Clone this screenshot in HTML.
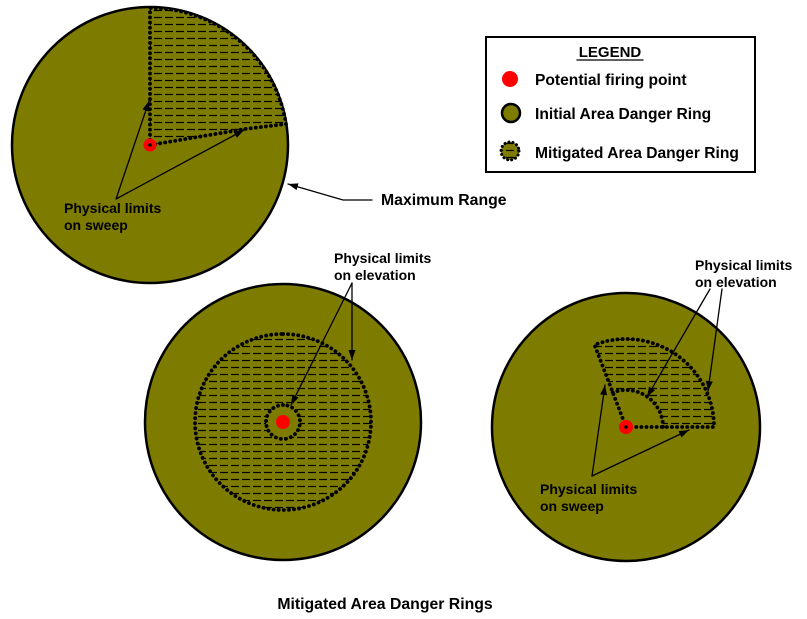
<!DOCTYPE html>
<html><head><meta charset="utf-8"><style>
html,body{margin:0;padding:0;background:#fff}
svg{display:block}
text{font-family:"Liberation Sans",Arial,sans-serif;font-weight:bold;fill:#000}
</style></head><body>
<svg width="807" height="619" viewBox="0 0 807 619" xmlns="http://www.w3.org/2000/svg">
<defs>
<pattern id="h" width="11" height="7" patternUnits="userSpaceOnUse">
<rect width="11" height="7" fill="#7d7b00"/>
<line x1="0" y1="3.5" x2="8" y2="3.5" stroke="#000" stroke-width="1.2"/>
</pattern>
<marker id="a" viewBox="0 0 10 10" refX="10" refY="5" markerWidth="10" markerHeight="10" orient="auto" markerUnits="userSpaceOnUse">
<path d="M0,1.5 L10,5 L0,8.5 Z" fill="#000"/>
</marker>
</defs>
<g stroke-linecap="round">
<circle cx="150" cy="145" r="138" fill="#7d7b00" stroke="#000" stroke-width="2.5"/>
<path d="M150,145 L150,8 A137,137 0 0 1 286,124 L245,129 Z" fill="url(#h)" stroke="#000" stroke-width="3.8" stroke-dasharray="0.1 5"/>
<circle cx="150" cy="145" r="6.5" fill="#f00"/>
<circle cx="150" cy="145" r="1.8" fill="#000"/>
<line x1="116" y1="199" x2="149" y2="101" stroke="#000" stroke-width="1.3" marker-end="url(#a)"/>
<line x1="116" y1="199" x2="244" y2="130" stroke="#000" stroke-width="1.3" marker-end="url(#a)"/>
<text x="64" y="213" font-size="14">Physical limits</text>
<text x="64" y="230" font-size="14">on sweep</text>
<polyline points="372,200 343,200 288,184" fill="none" stroke="#000" stroke-width="1.2" marker-end="url(#a)"/>
<text x="381" y="205" font-size="15.8">Maximum Range</text>
<rect x="486" y="37" width="269" height="135" fill="#fff" stroke="#000" stroke-width="2"/>
<text x="610" y="57" font-size="15" text-anchor="middle">LEGEND</text>
<line x1="577" y1="60" x2="643" y2="60" stroke="#000" stroke-width="1.3"/>
<circle cx="510" cy="79" r="8" fill="#f00"/>
<text x="535" y="85" font-size="15.6">Potential firing point</text>
<circle cx="511" cy="113" r="9" fill="#7d7b00" stroke="#000" stroke-width="2.5"/>
<text x="535" y="119" font-size="15.6">Initial Area Danger Ring</text>
<circle cx="510" cy="151" r="9" fill="url(#h)" stroke="#000" stroke-width="3" stroke-dasharray="0.1 4"/>
<text x="535" y="158" font-size="15.6">Mitigated Area Danger Ring</text>
<circle cx="283" cy="422" r="138" fill="#7d7b00" stroke="#000" stroke-width="2.5"/>
<path d="M283,334 a88,88 0 1 1 -0.01,0 Z M283,405 a17,17 0 1 0 0.01,0 Z" fill="url(#h)" fill-rule="evenodd" stroke="#000" stroke-width="3.8" stroke-dasharray="0.1 5"/>
<circle cx="283" cy="422" r="7" fill="#f00"/>
<line x1="352" y1="283" x2="291" y2="405" stroke="#000" stroke-width="1.3" marker-end="url(#a)"/>
<line x1="352" y1="283" x2="352" y2="360" stroke="#000" stroke-width="1.3" marker-end="url(#a)"/>
<text x="334" y="263" font-size="14">Physical limits</text>
<text x="334" y="280" font-size="14">on elevation</text>
<circle cx="626" cy="427" r="134" fill="#7d7b00" stroke="#000" stroke-width="2.5"/>
<path d="M714,427 A88,88 0 0 0 594.5,344.8 L612.7,392.5 A37,37 0 0 1 663,427 Z" fill="url(#h)" stroke="none"/>
<path d="M626,427 L714,427 A88,88 0 0 0 594.5,344.8 L626,427 M612.7,392.5 A37,37 0 0 1 663,427" fill="none" stroke="#000" stroke-width="3.8" stroke-dasharray="0.1 5"/>
<circle cx="626" cy="427" r="7" fill="#f00"/>
<circle cx="626" cy="427" r="1.8" fill="#000"/>
<line x1="592" y1="476" x2="605" y2="385" stroke="#000" stroke-width="1.3" marker-end="url(#a)"/>
<line x1="592" y1="476" x2="689" y2="430" stroke="#000" stroke-width="1.3" marker-end="url(#a)"/>
<line x1="722" y1="289" x2="708" y2="391" stroke="#000" stroke-width="1.3" marker-end="url(#a)"/>
<line x1="710" y1="289" x2="647" y2="397" stroke="#000" stroke-width="1.3" marker-end="url(#a)"/>
<text x="695" y="270" font-size="14">Physical limits</text>
<text x="695" y="287" font-size="14">on elevation</text>
<text x="540" y="494" font-size="14">Physical limits</text>
<text x="540" y="511" font-size="14">on sweep</text>
<text x="385" y="609" font-size="15.8" text-anchor="middle">Mitigated Area Danger Rings</text>
</g>
</svg>
</body></html>
